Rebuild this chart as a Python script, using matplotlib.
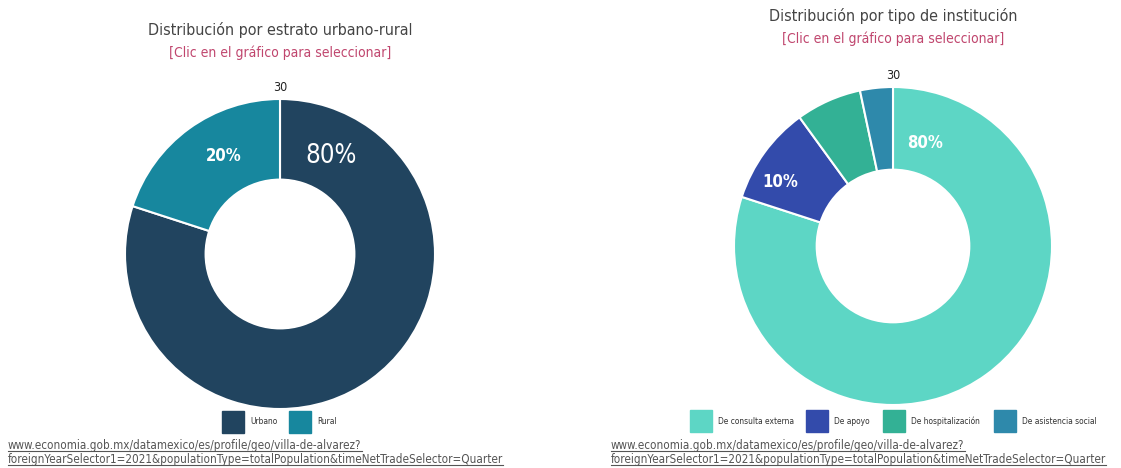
import matplotlib
matplotlib.use('Agg')
import matplotlib.pyplot as plt
from matplotlib.lines import Line2D

plt.rcParams['font.family'] = ['DejaVu Sans']
plt.rcParams['font.stretch'] = 'condensed'

# data: counts per category (total 30 in each chart)
estrato_labels = ['Urbano', 'Rural']
estrato_counts = [24, 6]
estrato_colors = ['#21445f', '#17879e']

inst_labels = ['De consulta externa', 'De apoyo', 'De hospitalización', 'De asistencia social']
inst_counts = [24, 3, 2, 1]
inst_colors = ['#5dd6c5', '#334bab', '#33b195', '#2e89ab']

titles = ['Distribución por estrato urbano-rural', 'Distribución por tipo de institución']
subtitle = '[Clic en el gráfico para seleccionar]'
source = ('www.economia.gob.mx/datamexico/es/profile/geo/villa-de-alvarez?\n'
          'foreignYearSelector1=2021&populationType=totalPopulation&timeNetTradeSelector=Quarter')

W, H = 1121, 468
fig = plt.figure(figsize=(W / 100, H / 100), dpi=100)


def px_axes(cx, cy, r):
    return fig.add_axes([(cx - r) / W, 1 - (cy + r) / H, 2 * r / W, 2 * r / H])


def donut(ax, counts, colors, labels_pos, sizes):
    wedges, _ = ax.pie(counts, colors=colors, startangle=90, counterclock=False,
                       radius=1, wedgeprops=dict(width=0.52, edgecolor='white', linewidth=1.5))
    total = sum(counts)
    for (x, y), n, fs in zip(labels_pos, counts, sizes):
        if fs:
            ax.text(x, y, f'{round(100 * n / total)}%', color='white', fontsize=fs,
                    ha='center', va='center', fontweight='bold' if fs < 15 else 'normal')
    ax.text(0, 1.03, str(total), ha='center', va='bottom', fontsize=9, color='#222222')
    ax.set_xlim(-1, 1)
    ax.set_ylim(-1, 1)
    ax.set_aspect('equal')
    ax.axis('off')


# left donut
ax1 = px_axes(280, 254, 155)
donut(ax1, estrato_counts, estrato_colors, [(0.33, 0.63), (-0.36, 0.63)], [18.5, 12])

# right donut
ax2 = px_axes(893, 246, 159)
donut(ax2, inst_counts, inst_colors, [(0.2, 0.65), (-0.71, 0.40), (0, 0), (0, 0)], [12, 12, 0, 0])

# titles
for cx, ty, t in [(280, 30, titles[0]), (893, 16, titles[1])]:
    fig.text(cx / W, 1 - ty / H, t, ha='center', va='center', fontsize=11.5, color='#444444')
    fig.text(cx / W, 1 - (ty + 23) / H, subtitle, ha='center', va='center', fontsize=10,
             color='#c0466e')


# legends
def legend(items, colors, xs, y):
    for lab, col, x in zip(items, colors, xs):
        fig.patches.append(plt.Rectangle((x / W, 1 - (y + 11) / H), 22 / W, 22 / H,
                                         transform=fig.transFigure, color=col))
        fig.text((x + 28) / W, 1 - y / H, lab, ha='left', va='center', fontsize=6,
                 color='#333333')


legend(estrato_labels, estrato_colors, [222, 289], 422)
legend(inst_labels, inst_colors, [690, 806, 883, 994], 421)

# source links (underlined)
for x in [8, 611]:
    for i, line in enumerate(source.split('\n')):
        base = 449 + 14.5 * i
        t = fig.text(x / W, 1 - base / H, line, ha='left', va='baseline',
                     fontsize=8.4, color='#555555')
        fig.canvas.draw()
        bb = t.get_window_extent(fig.canvas.get_renderer())
        yy = 1 - (base + 1.8) / H
        fig.lines.append(Line2D([bb.x0 / W, bb.x1 / W], [yy, yy], transform=fig.transFigure,
                                color='#555555', linewidth=0.8))

fig.savefig('out.png', dpi=100)
